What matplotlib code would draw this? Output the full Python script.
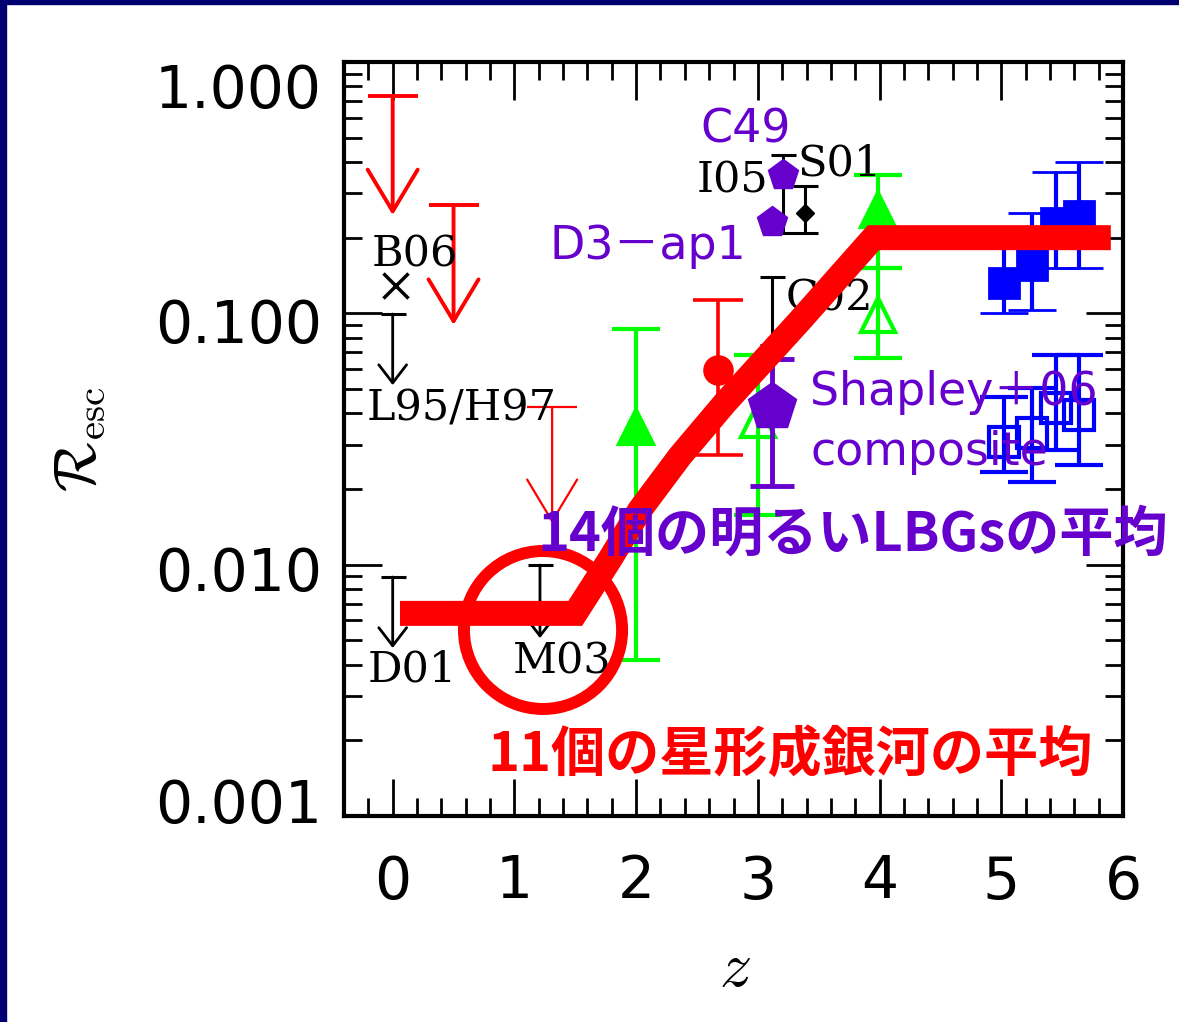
import matplotlib
matplotlib.use('Agg')
import matplotlib.pyplot as plt
import numpy as np
from matplotlib.patches import Ellipse, Rectangle
from matplotlib.ticker import MultipleLocator, LogLocator, NullFormatter
from matplotlib.transforms import ScaledTranslation

plt.rcParams['mathtext.fontset'] = 'cm'

# ---------------- data ----------------
# thick red model line
model_z = [0.06, 1.50, 1.79, 2.03, 2.36, 2.73, 3.35, 3.95, 5.90]
model_R = [0.0064, 0.0064, 0.0106, 0.0165, 0.027, 0.044, 0.094, 0.20, 0.20]

# red upper limits (local star-forming galaxies)
red_ul_z = [0.00, 0.50, 1.31]
red_ul_top = [0.73, 0.27, 0.0424]
red_ul_tip = [0.246, 0.090, 0.0146]

# red filled circle
red_pt_z = [2.67]
red_pt_R = [0.0595]
red_pt_hi = [0.113]
red_pt_lo = [0.0273]

# green triangles
green_fill_z = [2.00, 3.99]
green_fill_R = [0.0353, 0.258]
green_fill_hi = [0.0866, 0.355]
green_fill_lo = [0.00417, 0.151]
green_open_z = [3.00, 3.99]
green_open_R = [0.0376, 0.0985]
green_open_hi = [0.0682, 0.151]
green_open_lo = [0.0157, 0.0664]

# purple pentagons
purple_z = [3.21, 3.12]
purple_R = [0.355, 0.231]
purple_names = ['C49', 'D3－ap1']
shapley_z = [3.12]
shapley_R = [0.0424]
shapley_hi = [0.0658]
shapley_lo = [0.0205]

# black upper limits (L95/H97, D01, M03)
black_ul_z = [0.00, 0.00, 1.21]
black_ul_top = [0.0994, 0.00893, 0.00996]
black_ul_tip = [0.0518, 0.00466, 0.0051]

# black points
b06_z = [0.02]
b06_R = [0.130]
s01_z = [3.39]
s01_R = [0.251]
s01_hi = [0.321]
s01_lo = [0.209]
i05_z = [3.21]
i05_R = [0.30]
i05_hi = [0.427]
i05_lo = [0.209]
c02_z = [3.12]
c02_R = [0.10]
c02_hi = [0.139]
c02_lo = [0.075]

# blue squares (z~5-6)
blue_z = [5.02, 5.25, 5.45, 5.64]
blue_fill_R = [0.132, 0.156, 0.229, 0.244]
blue_fill_hi = [0.192, 0.251, 0.365, 0.400]
blue_fill_lo = [0.100, 0.103, 0.151, 0.151]
blue_open_R = [0.0308, 0.0334, 0.042, 0.0394]
blue_open_hi = [0.0465, 0.0504, 0.0682, 0.0682]
blue_open_lo = [0.0234, 0.0213, 0.0286, 0.0249]

xtick_vals = [0, 1, 2, 3, 4, 5, 6]
ytick_vals = [1.0, 0.1, 0.01, 0.001]
ytick_labels = ['1.000', '0.100', '0.010', '0.001']

# ---------------- figure ----------------
W, H = 1179, 1022
fig = plt.figure(figsize=(W / 100, H / 100), dpi=100)
fig.patch.set_facecolor('white')
# slide frame
fig.patches.append(Rectangle((0, 1 - 4 / H), 1, 4 / H, transform=fig.transFigure,
                             color='#000070', zorder=0))
fig.patches.append(Rectangle((0, 0), 6 / W, 1, transform=fig.transFigure,
                             color='#000070', zorder=0))

ax = fig.add_axes([344 / W, 1 - 816 / H, 779 / W, 754 / H])
ax.set_yscale('log')
ax.set_xlim(-0.4, 6.0)
ax.set_ylim(0.001, 1.0)

RED = '#FF0000'
GREEN = '#00FF00'
BLUE = '#0000FF'
PURPLE = '#6600CC'


def asym(R, lo, hi):
    R = np.asarray(R); lo = np.asarray(lo); hi = np.asarray(hi)
    return [R - lo, hi - R]


# red upper limits
for z, top, tip in zip(red_ul_z, red_ul_top, red_ul_tip):
    lw = 1.6 if z > 1 else 2.8
    ax.plot([z], [top], marker='_', ms=36, mew=lw, color=RED, zorder=3)
    ax.annotate('', xy=(z, tip), xytext=(z, top),
                arrowprops=dict(arrowstyle='->,head_length=3.0,head_width=1.8',
                                color=RED, lw=lw, shrinkA=0, shrinkB=0,
                                mutation_scale=10), zorder=3)

# black upper limits
for z, top, tip in zip(black_ul_z, black_ul_top, black_ul_tip):
    ax.plot([z], [top], marker='_', ms=18, mew=2.2, color='black', zorder=3)
    ax.annotate('', xy=(z, tip), xytext=(z, top),
                arrowprops=dict(arrowstyle='->,head_length=1.3,head_width=1.0',
                                color='black', lw=2.0, shrinkA=0, shrinkB=0,
                                mutation_scale=10), zorder=3)

ax.plot(b06_z, b06_R, 'x', color='black', ms=18, mew=2.5, zorder=3)
ax.errorbar(s01_z, s01_R, yerr=asym(s01_R, s01_lo, s01_hi), fmt='D', ms=9,
            color='black', ecolor='black', elinewidth=2.2, capsize=9, capthick=2.2, zorder=3)
ax.errorbar(i05_z, i05_R, yerr=asym(i05_R, i05_lo, i05_hi), fmt='none',
            ecolor='black', elinewidth=2.2, capsize=9, capthick=2.2, zorder=3)
ax.errorbar(c02_z, c02_R, yerr=asym(c02_R, c02_lo, c02_hi), fmt='none',
            ecolor='black', elinewidth=2.2, capsize=9, capthick=2.2, zorder=3)

# green triangles
ax.errorbar(green_fill_z, green_fill_R, yerr=asym(green_fill_R, green_fill_lo, green_fill_hi),
            fmt='^', ms=24, mfc=GREEN, mec=GREEN, mew=3, ecolor=GREEN,
            elinewidth=3, capsize=17, capthick=3, zorder=3)
ax.errorbar(green_open_z, green_open_R, yerr=asym(green_open_R, green_open_lo, green_open_hi),
            fmt='^', ms=24, mfc='none', mec=GREEN, mew=3, ecolor=GREEN,
            elinewidth=3, capsize=17, capthick=3, zorder=3)

# red circle point
ax.errorbar(red_pt_z, red_pt_R, yerr=asym(red_pt_R, red_pt_lo, red_pt_hi),
            fmt='o', ms=21, color=RED, ecolor=RED, elinewidth=2.6,
            capsize=18, capthick=2.6, zorder=3)

# blue squares
ax.errorbar(blue_z, blue_fill_R, yerr=asym(blue_fill_R, blue_fill_lo, blue_fill_hi),
            fmt='s', ms=21, mfc=BLUE, mec=BLUE, mew=2, ecolor=BLUE,
            elinewidth=3, capsize=17, capthick=3, zorder=3)
ax.errorbar(blue_z, blue_open_R, yerr=asym(blue_open_R, blue_open_lo, blue_open_hi),
            fmt='s', ms=21, mfc='none', mec=BLUE, mew=3, ecolor=BLUE,
            elinewidth=3, capsize=17, capthick=3, zorder=3)

# purple pentagons
ax.plot(purple_z, purple_R, 'p', ms=23, color=PURPLE, zorder=4)
ax.errorbar(shapley_z, shapley_R, yerr=asym(shapley_R, shapley_lo, shapley_hi),
            fmt='p', ms=36, color=PURPLE, ecolor=PURPLE, elinewidth=3.5,
            capsize=16, capthick=3.5, zorder=4)

# black labels (serif)
bl = dict(family='DejaVu Serif', fontsize=31, color='black', ha='center', va='center', zorder=4)
ax.text(0.18, 0.171, 'B06', **bl)
ax.text(0.57, 0.042, 'L95/H97', **bl)
ax.text(0.16, 0.00381, 'D01', **bl)
ax.text(1.39, 0.0041, 'M03', **bl)
ax.text(2.79, 0.339, 'I05', **bl)
ax.text(3.67, 0.396, 'S01', **bl)
ax.text(3.59, 0.115, 'C02', **bl)

# model line
ax.plot(model_z, model_R, color=RED, lw=18, solid_capstyle='butt',
        solid_joinstyle='miter', zorder=5)

# highlight circle
ax.add_patch(Ellipse((0.2555, 0.2467), 0.203, 0.2095, transform=ax.transAxes,
                     fill=False, ec=RED, lw=8.6, zorder=5))

# purple labels
pl = dict(family=['DejaVu Sans', 'Noto Sans CJK JP'], fontsize=33, color=PURPLE, zorder=7)
ax.text(2.90, 0.536, purple_names[0], ha='center', va='center', **pl)
ax.text(2.10, 0.184, purple_names[1], ha='center', va='center', **pl)
ax.text(3.43, 0.0486, 'Shapley＋06', ha='left', va='center', **pl)
ax.text(3.43, 0.028, 'composite', ha='left', va='center', **pl)

ax.text(1.19, 0.0131, '14個の明るいLBGsの平均', family=['Noto Sans CJK JP'],
        fontsize=39, fontweight='bold', color=PURPLE, ha='left', va='center', zorder=7)
ax.text(0.776, 0.00175, '11個の星形成銀河の平均', family=['Noto Sans CJK JP'],
        fontsize=39, fontweight='bold', color=RED, ha='left', va='center', zorder=7)

# axes styling
for sp in ax.spines.values():
    sp.set_linewidth(3)
ax.xaxis.set_major_locator(MultipleLocator(1))
ax.xaxis.set_minor_locator(MultipleLocator(0.2))
ax.set_xticks(xtick_vals)
ax.set_xticklabels([str(v) for v in xtick_vals])
ax.set_yticks(ytick_vals)
ax.set_yticklabels(ytick_labels)
ax.yaxis.set_minor_locator(LogLocator(base=10, subs=np.arange(2, 10)))
ax.yaxis.set_minor_formatter(NullFormatter())
ax.tick_params(which='both', direction='in', top=True, right=True, width=2)
ax.tick_params(which='major', length=27)
ax.tick_params(which='minor', length=13)
ax.tick_params(axis='y', which='major', pad=16, labelsize=42)
ax.tick_params(axis='x', which='major', pad=27, labelsize=42)

# nudge y tick labels like the reference
offs = {'1.000': -17, '0.100': -5, '0.010': -3, '0.001': 11.5}
for lab in ax.get_yticklabels():
    d = offs.get(lab.get_text(), 0)
    lab.set_transform(lab.get_transform() + ScaledTranslation(0, d / 72, fig.dpi_scale_trans))

ax.set_xlabel('$z$', fontsize=46)
ax.xaxis.set_label_coords(0.502, -0.2016)
ax.xaxis.label.set_va('center')
ax.set_ylabel(r'$\mathcal{R}_{\rm esc}$', fontsize=42)
ax.yaxis.set_label_coords(-0.339, 0.499)
ax.yaxis.label.set_va('center')

fig.savefig('out.png', dpi=100)
